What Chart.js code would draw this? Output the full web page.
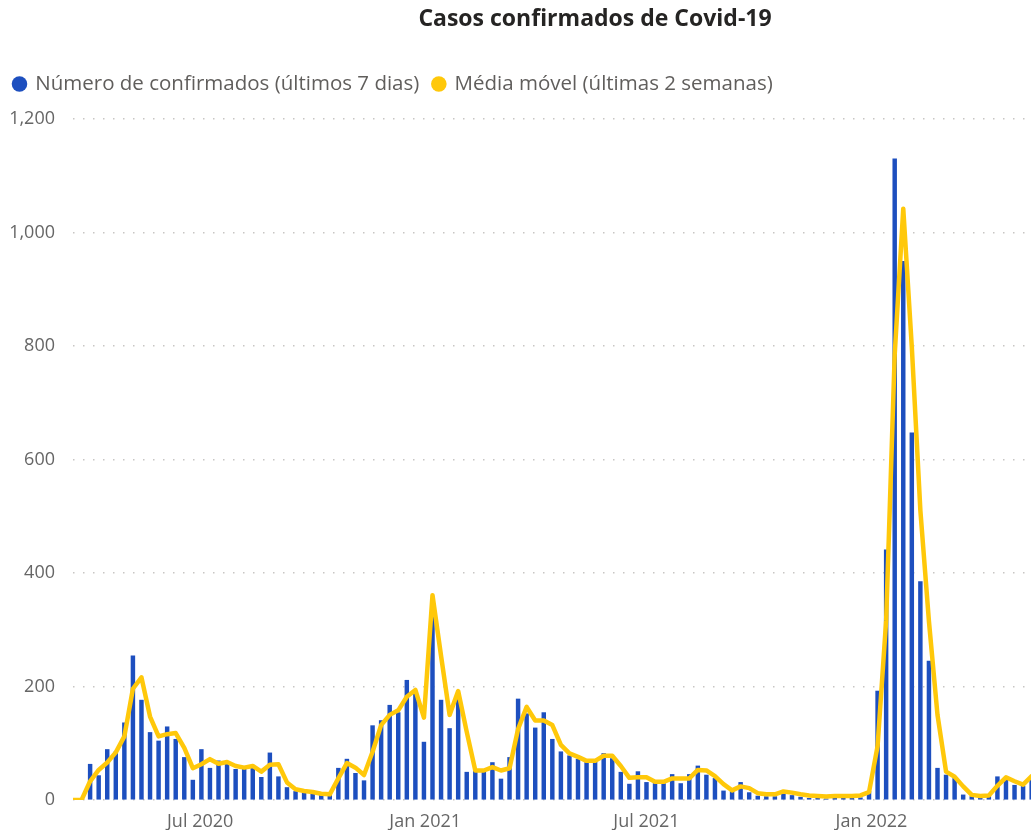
<!DOCTYPE html>
<html>
<head>
<meta charset="utf-8">
<script src="https://cdn.jsdelivr.net/npm/chart.js@4.4.1/dist/chart.umd.min.js"></script>
<style>
    html, body { margin: 0; padding: 0; background: #fff; overflow: hidden; }
    #wrap { width: 1194px; height: 830px; }
</style>
</head>
<body>
<div id="wrap"><canvas id="covidChart" width="1194" height="830"></canvas></div>
<script>
// Weekly data, first week starts 2020-03-19
const firstWeek = "2020-03-19";

// Número de confirmados (últimos 7 dias)
const weeklyCases = [
    0, 0, 63, 43, 89, 85, 136, 254, 176, 119,
    104, 129, 107, 75, 35, 89, 56, 69, 65, 54,
    56, 58, 40, 83, 41, 22, 15, 13, 10, 9,
    9, 56, 72, 47, 34, 131, 140, 167, 154, 211,
    188, 102, 323, 176, 126, 188, 49, 52, 50, 66,
    37, 75, 178, 152, 127, 154, 107, 85, 78, 72,
    66, 67, 82, 73, 49, 28, 50, 31, 29, 29,
    45, 29, 45, 60, 44, 38, 16, 16, 31, 13,
    7, 6, 6, 15, 8, 5, 3, 3, 2, 3,
    3, 3, 4, 15, 192, 441, 1130, 949, 647, 385,
    245, 56, 44, 38, 9, 6, 6, 7, 41, 35,
    26, 24, 40
];

// Média móvel (últimas 2 semanas)
const movingAverage = [
    0, 0, 33, 53, 66, 84, 112, 196, 216, 147,
    112, 116, 118, 92, 56, 63, 72, 64, 67, 60,
    57, 60, 50, 62, 63, 31, 19, 16, 14, 11,
    10, 38, 65, 57, 44, 85, 132, 150, 158, 182,
    194, 145, 361, 254, 150, 192, 120, 52, 52, 58,
    52, 56, 125, 164, 140, 140, 132, 97, 82, 76,
    69, 69, 78, 78, 60, 39, 40, 40, 32, 32,
    38, 38, 38, 53, 52, 42, 28, 17, 24, 21,
    12, 10, 10, 15, 13, 10, 8, 7, 6, 7,
    7, 7, 8, 14, 95, 316, 785, 1042, 798, 510,
    315, 150, 50, 41, 24, 9, 7, 8, 25, 40,
    33, 27, 42
];

// x axis tick labels and the dates they mark
const tickLabels = ["Jul 2020", "Jan 2021", "Jul 2021", "Jan 2022"];
const tickDates = ["2020-07-01", "2021-01-01", "2021-07-01", "2022-01-01"];

const yTicks = [0, 200, 400, 600, 800, 1000, 1200];

// week index of a date (fractional)
function weekIndex(dateStr) {
    let ms = new Date(dateStr + "T00:00:00Z") - new Date(firstWeek + "T00:00:00Z");
    return ms / (7 * 24 * 3600 * 1000);
}

const tickValues = tickDates.map(weekIndex);

const fontFamily = "'Open Sans', 'Noto Sans', sans-serif";
const blue = "#1D4FBF";
const yellow = "#FFC80A";

// extra space under the legend
const legendGap = {
    id: "legendGap",
    beforeInit(chart) {
        const origFit = chart.legend.fit;
        chart.legend.fit = function () {
            origFit.bind(chart.legend)();
            this.height += 14.75;
        };
    }
};

let ctx = document.getElementById("covidChart").getContext("2d");

let covidChart = new Chart(ctx, {
    type: "bar",
    data: {
        datasets: [
            {
                type: "bar",
                label: "Número de confirmados (últimos 7 dias)",
                data: weeklyCases.map((v, i) => ({ x: i, y: v })),
                backgroundColor: blue,
                borderWidth: 0,
                barThickness: 3.8,
                order: 1
            },
            {
                type: "line",
                label: "Média móvel (últimas 2 semanas)",
                data: movingAverage.map((v, i) => ({ x: i, y: v })),
                borderColor: yellow,
                backgroundColor: yellow,
                borderWidth: 4.5,
                pointRadius: 0,
                tension: 0,
                fill: false,
                borderJoinStyle: "round",
                borderCapStyle: "round",
                order: 0
            }
        ]
    },
    plugins: [legendGap],
    options: {
        responsive: false,
        animation: false,
        layout: { padding: { left: 0, right: 4, top: 0, bottom: 0 } },
        plugins: {
            title: {
                display: true,
                text: "Casos confirmados de Covid-19",
                color: "#252423",
                font: { family: fontFamily, size: 23, weight: "bold" },
                padding: { top: 6, bottom: 26.15 }
            },
            legend: {
                display: true,
                align: "start",
                labels: {
                    usePointStyle: true,
                    pointStyle: "circle",
                    boxWidth: 11,
                    boxHeight: 11,
                    padding: 14,
                    color: "#605E5C",
                    font: { family: fontFamily, size: 20.5 },
                    sort: (a, b) => a.datasetIndex - b.datasetIndex,
                    generateLabels(chart) {
                        let items = Chart.defaults.plugins.legend.labels.generateLabels(chart);
                        items.forEach(item => {
                            item.lineWidth = 0;
                            item.fillStyle = chart.data.datasets[item.datasetIndex].backgroundColor;
                        });
                        return items;
                    }
                }
            },
            tooltip: { enabled: false }
        },
        scales: {
            x: {
                type: "linear",
                min: 0,
                max: 130.5,
                offset: false,
                grid: { display: false },
                border: { display: false },
                afterBuildTicks(scale) {
                    scale.ticks = tickValues.map(v => ({ value: v }));
                },
                afterFit(scale) {
                    scale.height = 30;
                },
                ticks: {
                    autoSkip: false,
                    maxRotation: 0,
                    padding: 3,
                    color: "#666666",
                    font: { family: fontFamily, size: 18 },
                    callback: (value) => {
                        let k = tickValues.findIndex(t => Math.abs(t - value) < 0.01);
                        return k >= 0 ? tickLabels[k] : "";
                    }
                }
            },
            y: {
                min: 0,
                max: 1200,
                afterBuildTicks(scale) {
                    scale.ticks = yTicks.map(v => ({ value: v }));
                },
                afterFit(scale) {
                    scale.width = 73;
                },
                grid: {
                    color: "#C8C6C4",
                    lineWidth: 1.5,
                    drawTicks: false
                },
                border: { display: false, dash: [1.5, 8.5] },
                ticks: {
                    padding: 18,
                    color: "#666666",
                    font: { family: fontFamily, size: 18 },
                    callback: (value) => value.toLocaleString("en-US")
                }
            }
        }
    }
});
</script>
</body>
</html>
